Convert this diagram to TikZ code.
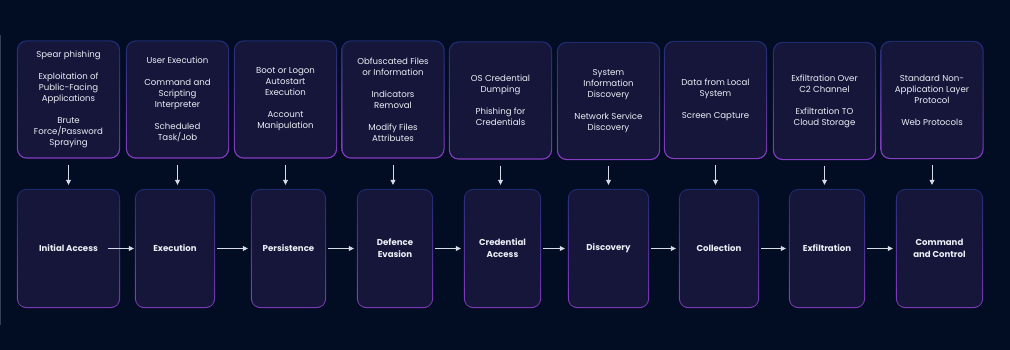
\documentclass[tikz,border=0pt]{standalone}
\usepackage{fontspec}
\setmainfont{Poppins}
\usepackage{xcolor}
\usepackage{tikz}
\usetikzlibrary{arrows.meta,backgrounds}

\definecolor{pagebg}{HTML}{020C22}
\definecolor{boxfill}{HTML}{15163A}
\definecolor{edgetop}{HTML}{1E2E72}
\definecolor{edgemid}{HTML}{DCE0EC}
\definecolor{edgebot}{HTML}{8A3CC6}
\definecolor{arrowcol}{HTML}{D8DCE8}
\definecolor{textcol}{HTML}{ECEEF6}
\definecolor{rulecol}{HTML}{353E52}

\begin{document}
\begin{tikzpicture}[x=1pt, y=-1pt,
  every node/.style={text=textcol},
  tech/.style={fill=boxfill, rounded corners=9pt, inner sep=2pt,
               minimum width=101pt, minimum height=116pt, align=center,
               font=\fontsize{8.6}{11}\selectfont},
  tactic/.style={fill=boxfill, rounded corners=8pt, inner sep=2pt,
               minimum height=117pt, align=center,
               font=\fontsize{8.6}{12}\selectfont\bfseries},
  arr/.style={-{Triangle[length=5pt, width=5pt]}, draw=arrowcol, line width=0.8pt},
  down/.style={arr, shorten <=7pt, shorten >=5pt},
  flow/.style={arr, shorten <=3pt, shorten >=4pt},
]
\useasboundingbox (0,0) rectangle (1010,350);

\node[tech] (t1) at (68.5,99.5)  {Spear phishing\\[11pt]Exploitation of\\Public-Facing\\Applications\\[11pt]Brute\\Force/Password\\Spraying};
\node[tech] (t2) at (177.5,99.5) {User Execution\\[11pt]Command and\\Scripting\\Interpreter\\[11pt]Scheduled\\Task/Job};
\node[tech] (t3) at (285.5,99.5) {Boot or Logon\\Autostart\\Execution\\[11pt]Account\\Manipulation};
\node[tech] (t4) at (393,99.5)   {Obfuscated Files\\or Information\\[11pt]Indicators\\Removal\\[11pt]Modify Files\\Attributes};
\node[tech] (t5) at (500.5,100.5) {OS Credential\\Dumping\\[11pt]Phishing for\\Credentials};
\node[tech] (t6) at (608.5,101)  {System\\Information\\Discovery\\[11pt]Network Service\\Discovery};
\node[tech] (t7) at (715.5,100)  {Data from Local\\System\\[11pt]Screen Capture};
\node[tech] (t8) at (824.5,101)  {Exfiltration Over\\C2 Channel\\[11pt]Exfiltration TO\\Cloud Storage};
\node[tech] (t9) at (932,100)    {Standard Non-\\Application Layer\\Protocol\\[11pt]Web Protocols};

\node[tactic, minimum width=101pt] (b1) at (68.5,248.5)  {Initial Access};
\node[tactic, minimum width=78pt]  (b2) at (175,248.5)   {Execution};
\node[tactic, minimum width=73pt]  (b3) at (288.5,248.5) {Persistence};
\node[tactic, minimum width=74pt]  (b4) at (395,248.5)   {Defence\\Evasion};
\node[tactic, minimum width=75pt]  (b5) at (502.5,248.5) {Credential\\Access};
\node[tactic, minimum width=79pt]  (b6) at (608.5,248.5) {Discovery};
\node[tactic, minimum width=78pt]  (b7) at (719,248.5)   {Collection};
\node[tactic, minimum width=74pt]  (b8) at (827,248.5)   {Exfiltration};
\node[tactic, minimum width=85pt]  (b9) at (939.5,248.5) {Command\\and Control};

\foreach \i in {1,...,9}
  \draw[down] (t\i.south) -- (t\i.south |- b\i.north);

\draw[arr, shorten <=-11pt, shorten >=2pt] (b1) -- (b2);
\draw[flow] (b2) -- (b3);
\draw[flow] (b3) -- (b4);
\draw[flow] (b4) -- (b5);
\draw[flow] (b5) -- (b6);
\draw[flow] (b6) -- (b7);
\draw[flow] (b7) -- (b8);
\draw[flow] (b8) -- (b9);

\begin{scope}[on background layer]
  \fill[pagebg] (0,0) rectangle (1010,350);
  \draw[rulecol, line width=1pt] (0.5,35) -- (0.5,325);
  \foreach \n in {t1,t2,t3,t4,t5,t6,t7,t8,t9,b1,b2,b3,b4,b5,b6,b7,b8,b9}
    \shade[rounded corners=10pt, top color=edgetop, middle color=edgemid,
           bottom color=edgebot]
      ([shift={(-1pt,1pt)}]\n.north west) rectangle ([shift={(1pt,-1pt)}]\n.south east);
\end{scope}
\end{tikzpicture}
\end{document}
